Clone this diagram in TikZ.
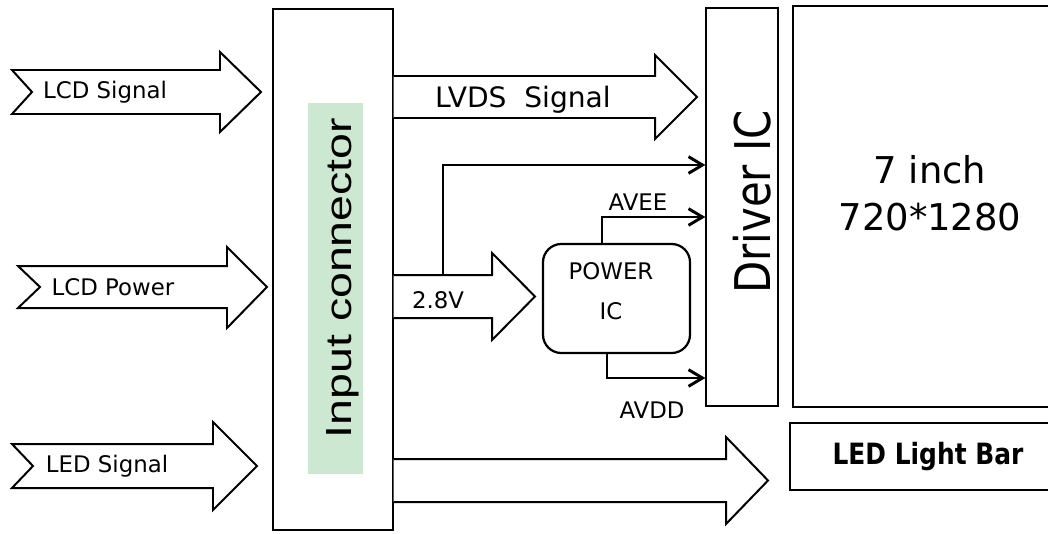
\documentclass[tikz,border=0pt]{standalone}
\usepackage{fontspec}
\setmainfont{DejaVu Sans}
\newfontfamily\connfont{Liberation Sans}
\usetikzlibrary{positioning,arrows.meta}
\definecolor{LabelGreen}{RGB}{205,232,209}

\begin{document}
\begin{tikzpicture}[x=0.03cm,y=-0.03cm, every node/.style={align=center, inner sep=0pt}]
\tikzset{
  box/.style={draw, line width=1.1pt},
  bigarrow/.style={draw, fill=white, line width=1.7pt},
  wire/.style={-{Straight Barb[length=4.2mm,width=5mm]}, line width=2.5pt},
  small/.style={font=\fontsize{19.5}{23}\selectfont}
}
  \useasboundingbox (0,0) rectangle (1048,533);

  % blocks
  \node[box, minimum width=3.6cm, minimum height=15.63cm] (conn) at (333,269.5) {};
  \node[fill=LabelGreen, minimum width=1.65cm, minimum height=11.1cm] (connbg) at (335.5,288.5) {};
  \node[rotate=90, anchor=base, font=\connfont\fontsize{31}{36}\selectfont] (connlabel) at (351,278)
    {\scalebox{1.28}[1]{Input connector}};
  \node[box, minimum width=2.16cm, minimum height=11.94cm] (driver) at (742,207) {};
  \node[rotate=90, anchor=base, font=\fontsize{42}{46}\selectfont] (driverlabel) at (770,202)
    {\scalebox{0.85}[1]{Driver IC}};
  \node[box, minimum width=8.22cm, minimum height=12.03cm] (panel) at (930,206.5) {};
  \node[font=\fontsize{31.5}{40}\selectfont] (paneltext) at (930,193) {7 inch\\720*1280};
  \node[box, minimum width=8.28cm, minimum height=2.01cm, font=\bfseries\fontsize{25}{28}\selectfont]
    (ledbar) at (928,456.5) {\scalebox{0.85}[1]{LED Light Bar}};
  \node[draw, line width=1.9pt, rounded corners=0.55cm, minimum width=4.41cm, minimum height=3.27cm]
    (poweric) at (616.5,298.5) {};
  \node[font=\fontsize{19.5}{34}\selectfont] (powerlabel) at (611,291) {POWER\\IC};

  % input arrows
  \draw[bigarrow] (12,70) -- (220,70) -- (220,52) -- (261,92) -- (220,132) -- (220,114) -- (12,114) -- (32,92) -- cycle;
  \draw[bigarrow] (18,266) -- (227,266) -- (227,247) -- (267,287) -- (227,328) -- (227,308) -- (18,308) -- (40,287) -- cycle;
  \draw[bigarrow] (12,444) -- (213,444) -- (213,422) -- (257,466) -- (213,510) -- (213,488) -- (12,488) -- (33,466) -- cycle;
  \node[small] (lcdsig) at (105,92) {LCD Signal};
  \node[small] (lcdpow) at (113,287) {LCD Power};
  \node[small] (ledsig) at (107,466) {LED Signal};

  % output arrows
  \draw[bigarrow] (conn.east |- 0,76) -- (655,76) -- (655,55) -- (697,97) -- (655,139) -- (655,118) -- (conn.east |- 0,118);
  \draw[bigarrow] (conn.east |- 0,275) -- (492,275) -- (492,253) -- (535,296.5) -- (492,340) -- (492,318) -- (conn.east |- 0,318);
  \draw[bigarrow] (conn.east |- 0,459) -- (726,459) -- (726,437) -- (768,480.5) -- (726,524) -- (726,502) -- (conn.east |- 0,502);
  \node[font=\fontsize{24}{28}\selectfont] (lvds) at (523,100) {LVDS~~Signal};
  \node[small] (volt) at (438,300) {2.8V};

  % power lines
  \coordinate (tap) at (443,275);
  \draw[wire] (tap) |- (driver.west |- 0,165);
  \draw[wire] (poweric.north -| 602,0) |- (driver.west |- 0,217);
  \draw[wire] (poweric.south -| 607,0) |- (driver.west |- 0,378);
  \node[small] (avee) at (638,202) {AVEE};
  \node[small] (avdd) at (652,410) {AVDD};
\end{tikzpicture}
\end{document}
